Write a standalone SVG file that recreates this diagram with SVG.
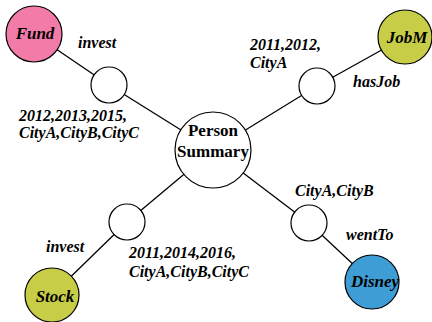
<svg xmlns="http://www.w3.org/2000/svg" width="432" height="322" viewBox="0 0 432 322">
<style>
.n{stroke:#000;stroke-width:1.2}
.e{stroke:#000;stroke-width:1.3;fill:none}
text{font-weight:700;fill:#000}
.l{font-style:italic;font-size:16px}
.t{font-style:italic;font-size:17px}
.p{font-size:17px}
</style>
<rect width="432" height="322" fill="#fff"/>
<g id="connectors">
<line class="e" x1="34" y1="34" x2="109" y2="85"/>
<line class="e" x1="109" y1="85" x2="213" y2="150"/>
<line class="e" x1="405" y1="37" x2="317" y2="86"/>
<line class="e" x1="317" y1="86" x2="213" y2="150"/>
<line class="e" x1="52" y1="295" x2="127" y2="222"/>
<line class="e" x1="127" y1="222" x2="213" y2="150"/>
<line class="e" x1="372" y1="282" x2="309" y2="223"/>
<line class="e" x1="309" y1="223" x2="213" y2="150"/>
</g>
<g font-family="Liberation Serif, serif">
<g id="fund"><circle class="n" cx="34" cy="34" r="28" fill="#F27BA7"/><text class="t" x="35" y="39" text-anchor="middle">Fund</text></g>
<g id="jobm"><circle class="n" cx="405" cy="37" r="27" fill="#C8CD48"/><text class="t" x="407" y="43" text-anchor="middle">JobM</text></g>
<g id="stock"><circle class="n" cx="52" cy="295" r="27" fill="#C8CD48"/><text class="t" x="55" y="302" text-anchor="middle">Stock</text></g>
<g id="disney"><circle class="n" cx="372" cy="282" r="27" fill="#3F9DD6"/><text class="t" x="375" y="287" text-anchor="middle">Disney</text></g>
<g id="person"><circle class="n" cx="213" cy="150" r="38" fill="#fff"/><text class="p" x="213" y="136" text-anchor="middle">Person</text><text class="p" x="213" y="157" text-anchor="middle">Summary</text></g>
<g id="r1"><circle class="n" cx="109" cy="85" r="18" fill="#fff"/></g>
<g id="r2"><circle class="n" cx="317" cy="86" r="18" fill="#fff"/></g>
<g id="r3"><circle class="n" cx="127" cy="222" r="18" fill="#fff"/></g>
<g id="r4"><circle class="n" cx="309" cy="223" r="18" fill="#fff"/></g>
<g id="labels">
<text class="l" x="78" y="48">invest</text>
<text class="l" x="19" y="121">2012,2013,2015,</text>
<text class="l" x="19" y="138">CityA,CityB,CityC</text>
<text class="l" x="250" y="50">2011,2012,</text>
<text class="l" x="250" y="68">CityA</text>
<text class="l" x="353" y="87">hasJob</text>
<text class="l" x="295" y="196">CityA,CityB</text>
<text class="l" x="346" y="240">wentTo</text>
<text class="l" x="46" y="252">invest</text>
<text class="l" x="129" y="258">2011,2014,2016,</text>
<text class="l" x="129" y="277">CityA,CityB,CityC</text>
</g>
</g>
</svg>
